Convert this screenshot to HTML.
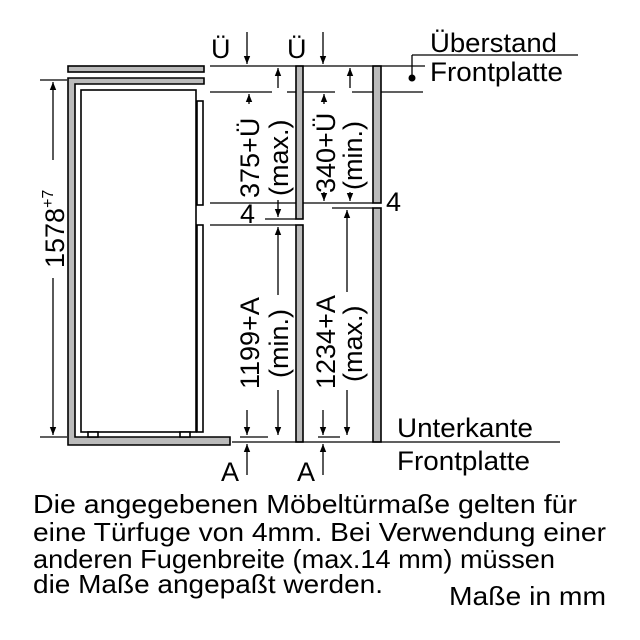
<!DOCTYPE html>
<html><head><meta charset="utf-8"><style>
html,body{margin:0;padding:0;background:#fff;}
svg{display:block;font-family:"Liberation Sans",sans-serif;}
</style></head><body>
<svg width="640" height="640" viewBox="0 0 640 640" xmlns="http://www.w3.org/2000/svg">
<defs>
<marker id="a" viewBox="0 0 10 10" refX="10" refY="5" markerWidth="8" markerHeight="8" markerUnits="userSpaceOnUse" orient="auto"><path d="M0,1 L10,5 L0,9 z" fill="#000"/></marker>
</defs>
<rect width="640" height="640" fill="#fff"/>
<g stroke="#000" stroke-width="1.6" fill="#bbb">
<rect x="68" y="66" width="136" height="6"/>
<path d="M68,78 H204 V84 H75 V437 H230 V445 H68 Z"/>
<rect x="81" y="90" width="115" height="342" fill="#fff"/>
<rect x="88" y="432" width="10" height="5" fill="#fff"/>
<rect x="180" y="432" width="10" height="5" fill="#fff"/>
<rect x="197" y="101" width="6" height="104" fill="#fff"/>
<rect x="197" y="225" width="6" height="207" fill="#fff"/>
<rect x="296" y="66" width="7" height="153"/>
<rect x="296" y="225" width="7" height="217"/>
<rect x="373" y="66" width="8" height="137"/>
<rect x="373" y="208" width="8" height="234"/>
</g>
<g stroke="#000" stroke-width="1.3" fill="none">
<line x1="210" y1="66" x2="425" y2="66"/>
<line x1="412" y1="55" x2="578" y2="55"/>
<line x1="412" y1="55" x2="412" y2="78"/>
<line x1="210" y1="92" x2="272" y2="92"/>
<line x1="287" y1="92" x2="296" y2="92"/>
<line x1="303" y1="92" x2="335" y2="92"/>
<line x1="352" y1="92" x2="373" y2="92"/>
<line x1="381" y1="92" x2="423" y2="92"/>
<line x1="210" y1="203" x2="296" y2="203"/>
<line x1="303" y1="203" x2="373" y2="203"/>
<line x1="332" y1="208" x2="373" y2="208"/>
<line x1="265" y1="219" x2="296" y2="219"/>
<line x1="210" y1="225" x2="296" y2="225"/>
<line x1="40" y1="80" x2="67" y2="80"/>
<line x1="40" y1="437" x2="67" y2="437"/>
<line x1="240" y1="437" x2="268" y2="437"/>
<line x1="318" y1="437" x2="340" y2="437"/>
<line x1="232" y1="442" x2="560" y2="442"/>
<line x1="53" y1="160" x2="53" y2="82" marker-end="url(#a)"/>
<line x1="53" y1="278" x2="53" y2="435" marker-end="url(#a)"/>
<line x1="247" y1="32" x2="247" y2="64" marker-end="url(#a)"/>
<line x1="323" y1="32" x2="323" y2="64" marker-end="url(#a)"/>
<line x1="249" y1="104" x2="249" y2="94" marker-end="url(#a)"/>
<line x1="324" y1="104" x2="324" y2="94" marker-end="url(#a)"/>
<line x1="324" y1="192" x2="324" y2="201" marker-end="url(#a)"/>
<line x1="278" y1="88" x2="278" y2="68" marker-end="url(#a)"/>
<line x1="278" y1="200" x2="278" y2="217" marker-end="url(#a)"/>
<line x1="278" y1="295" x2="278" y2="227" marker-end="url(#a)"/>
<line x1="278" y1="390" x2="278" y2="435" marker-end="url(#a)"/>
<line x1="350" y1="88" x2="350" y2="68" marker-end="url(#a)"/>
<line x1="350" y1="192" x2="350" y2="201" marker-end="url(#a)"/>
<line x1="347" y1="292" x2="347" y2="210" marker-end="url(#a)"/>
<line x1="347" y1="390" x2="347" y2="435" marker-end="url(#a)"/>
<line x1="247" y1="410" x2="247" y2="435" marker-end="url(#a)"/>
<line x1="323" y1="410" x2="323" y2="435" marker-end="url(#a)"/>
<line x1="247" y1="475" x2="247" y2="444" marker-end="url(#a)"/>
<line x1="323" y1="475" x2="323" y2="444" marker-end="url(#a)"/>
</g>
<circle cx="412" cy="78" r="3.5" fill="#000"/>
<g font-size="27" fill="#000">
<text x="211" y="58">Ü</text>
<text x="287" y="58">Ü</text>
<text x="430" y="52" textLength="127" lengthAdjust="spacingAndGlyphs">Überstand</text>
<text x="430" y="81" textLength="133" lengthAdjust="spacingAndGlyphs">Frontplatte</text>
<text x="240" y="223">4</text>
<text x="386" y="211">4</text>
<text x="397" y="437" textLength="136" lengthAdjust="spacingAndGlyphs">Unterkante</text>
<text x="397" y="470" textLength="133" lengthAdjust="spacingAndGlyphs">Frontplatte</text>
<text x="221" y="481">A</text>
<text x="297" y="481">A</text>
<text transform="translate(64,268) rotate(-90)">1578<tspan font-size="16" dy="-11">+7</tspan></text>
<text transform="translate(259,198) rotate(-90)">375+Ü</text>
<text transform="translate(288,196) rotate(-90)">(max.)</text>
<text transform="translate(335,193) rotate(-90)">340+Ü</text>
<text transform="translate(362,190) rotate(-90)">(min.)</text>
<text transform="translate(259,389) rotate(-90)">1199+A</text>
<text transform="translate(288,378) rotate(-90)">(min.)</text>
<text transform="translate(335,389) rotate(-90)">1234+A</text>
<text transform="translate(362,382) rotate(-90)">(max.)</text>
</g>
<g font-size="26" fill="#000">
<text x="33" y="513" textLength="544" lengthAdjust="spacingAndGlyphs">Die angegebenen Möbeltürmaße gelten für</text>
<text x="33" y="541" textLength="573" lengthAdjust="spacingAndGlyphs">eine Türfuge von 4mm. Bei Verwendung einer</text>
<text x="33" y="568" textLength="522" lengthAdjust="spacingAndGlyphs">anderen Fugenbreite (max.14 mm) müssen</text>
<text x="33" y="593" textLength="350" lengthAdjust="spacingAndGlyphs">die Maße angepaßt werden.</text>
<text x="449" y="605" textLength="157" lengthAdjust="spacingAndGlyphs">Maße in mm</text>
</g>
</svg>
</body></html>
